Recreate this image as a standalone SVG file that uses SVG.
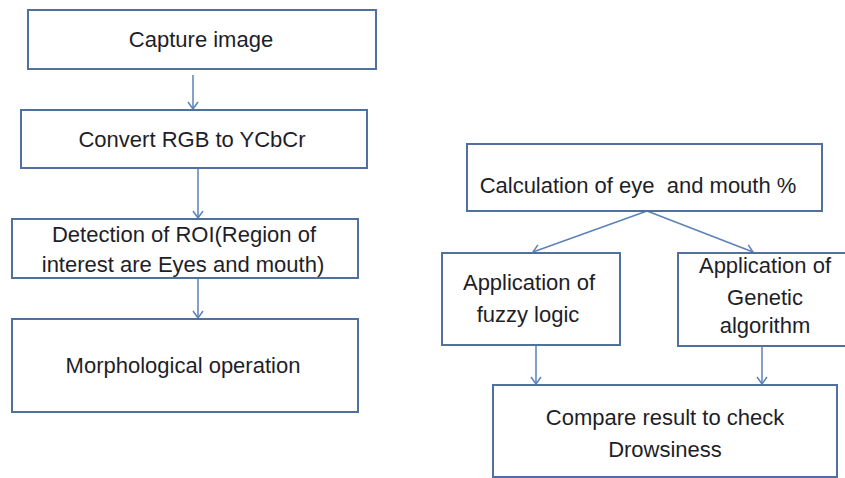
<svg xmlns="http://www.w3.org/2000/svg" width="845" height="478" viewBox="0 0 845 478">
<defs>
<marker id="arr" markerWidth="12" markerHeight="12" refX="10" refY="6" orient="auto" markerUnits="userSpaceOnUse">
<path d="M3,1 L10,6 L3,11" fill="none" stroke="#5a82b8" stroke-width="1.5"/>
</marker>
<style>
.box{fill:#ffffff;stroke:#50709e;stroke-width:2}
.t{font-family:"Liberation Sans",Arial,sans-serif;font-size:22px;fill:#1e1e28;text-anchor:middle;white-space:pre}
.c{fill:none;stroke:#5a82b8;stroke-width:1.5}
</style>
</defs>
<rect width="845" height="478" fill="#ffffff"/>
<g id="connectors">
<line class="c" x1="193" y1="75" x2="193" y2="109" marker-end="url(#arr)"/>
<line class="c" x1="198" y1="168" x2="198" y2="218" marker-end="url(#arr)"/>
<line class="c" x1="198" y1="278" x2="198" y2="318" marker-end="url(#arr)"/>
<line class="c" x1="647" y1="211" x2="533" y2="252" marker-end="url(#arr)"/>
<line class="c" x1="647" y1="211" x2="753" y2="252" marker-end="url(#arr)"/>
<line class="c" x1="536" y1="345" x2="536" y2="384" marker-end="url(#arr)"/>
<line class="c" x1="762" y1="346" x2="762" y2="384" marker-end="url(#arr)"/>
</g>
<g id="capture">
<rect class="box" x="28" y="10" width="348" height="59"/>
<text class="t" x="201" y="47">Capture image</text>
</g>
<g id="convert">
<rect class="box" x="21" y="110" width="346" height="58"/>
<text class="t" x="192" y="147">Convert RGB to YCbCr</text>
</g>
<g id="detection">
<rect class="box" x="12" y="219" width="346" height="59"/>
<text class="t" x="184" y="242">Detection of ROI(Region of</text>
<text class="t" x="183" y="272">interest are Eyes and mouth)</text>
</g>
<g id="morph">
<rect class="box" x="12" y="319" width="346" height="93"/>
<text class="t" x="183" y="373">Morphological operation</text>
</g>
<g id="calc">
<rect class="box" x="467" y="144" width="355" height="67"/>
<text class="t" x="638" y="193">Calculation of eye  and mouth %</text>
</g>
<g id="fuzzy">
<rect class="box" x="442" y="253" width="178" height="92"/>
<text class="t" x="529" y="290">Application of</text>
<text class="t" x="528" y="322">fuzzy logic</text>
</g>
<g id="genetic">
<rect class="box" x="678" y="253" width="180" height="93"/>
<text class="t" x="765" y="273">Application of</text>
<text class="t" x="765" y="305">Genetic</text>
<text class="t" x="765" y="333">algorithm</text>
</g>
<g id="compare">
<rect class="box" x="493" y="385" width="344" height="92"/>
<text class="t" x="665" y="425">Compare result to check</text>
<text class="t" x="665" y="457">Drowsiness</text>
</g>
</svg>
